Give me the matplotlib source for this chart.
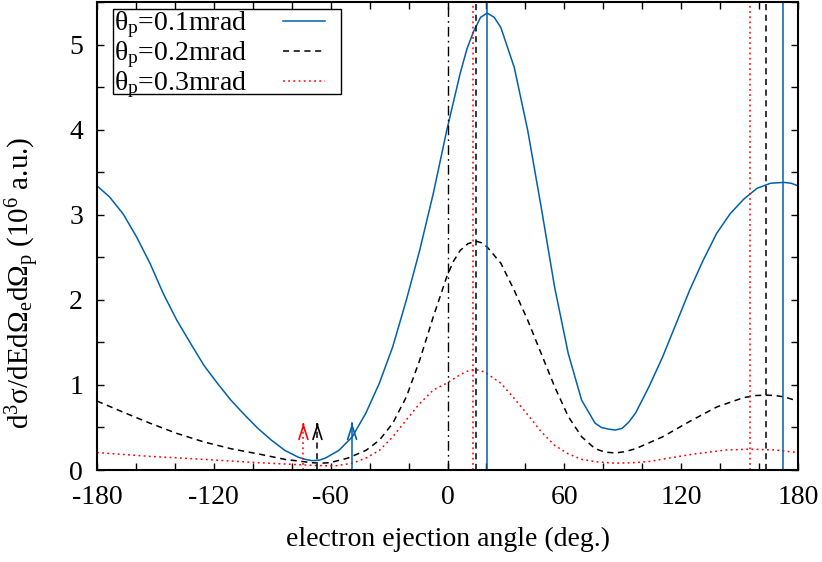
import matplotlib
matplotlib.use('Agg')
import matplotlib.pyplot as plt
from matplotlib.patches import Rectangle

plt.rcParams['font.family'] = ['Liberation Serif', 'DejaVu Serif']
plt.rcParams['mathtext.fontset'] = 'custom'
plt.rcParams['mathtext.rm'] = 'Liberation Serif'
plt.rcParams['mathtext.it'] = 'Liberation Serif:italic'
plt.rcParams['font.size'] = 20
plt.rcParams['axes.unicode_minus'] = False

# --- data ---
ang_01 = [-180, -173.6, -166.6, -159.7, -152.8, -145.9, -139, -132, -125.1, -118.2, -111.2, -104.3,
          -97.4, -90.4, -83.5, -76.6, -73, -69.7, -66, -62.7, -55.8, -48.9, -41.9, -35, -28.1, -21.1, -14.3,
          -7.3, -0.4, 6.5, 10, 13.5, 17, 20.4, 24, 27.4, 34.3, 41.2, 48.1, 55, 62, 68.9, 75.8, 79, 82.8,
          86.2, 89.7, 93, 96.6, 103.5, 110.5, 117.4, 124.3, 131.2, 138.2, 145.1, 152, 158.9, 165.9,
          172.8, 176.5, 180]
val_01 = [3.34, 3.21, 3.01, 2.74, 2.43, 2.07, 1.76, 1.49, 1.23, 1.02, 0.82, 0.65,
          0.49, 0.35, 0.23, 0.15, 0.125, 0.11, 0.115, 0.14, 0.23, 0.39, 0.67, 1.02, 1.45, 2.00, 2.58,
          3.25, 3.99, 4.66, 4.95, 5.16, 5.32, 5.37, 5.32, 5.20, 4.73, 3.99, 3.09, 2.15, 1.37, 0.82, 0.55, 0.50, 0.48,
          0.47, 0.49, 0.56, 0.67, 0.98, 1.33, 1.72, 2.11, 2.46, 2.78, 3.01, 3.18, 3.31, 3.37,
          3.38, 3.37, 3.34]

ang_02 = [-180, -166.6, -152.8, -139, -125.1, -111.2, -97.4, -83.5, -69.7, -65, -60.4, -51.2, -41.9, -35,
          -28.1, -21.1, -14.3, -7.3, -0.4, 3, 6.5, 10.5, 14.6, 17.5, 20.4, 27.4, 34.3, 41.2, 48.1, 55, 62, 68.9,
          75.8, 81, 86.2, 91, 96.6, 110.5, 124.3, 138.2, 152, 158, 163.6, 168, 172.8, 180]
val_02 = [0.81, 0.68, 0.55, 0.43, 0.33, 0.25, 0.19, 0.125, 0.086, 0.08, 0.086, 0.14, 0.23, 0.35,
          0.55, 0.86, 1.29, 1.80, 2.27, 2.45, 2.58, 2.66, 2.69, 2.67, 2.62, 2.43, 2.11, 1.76, 1.37, 0.98, 0.63, 0.39,
          0.25, 0.21, 0.20, 0.215, 0.25, 0.39, 0.57, 0.74, 0.85, 0.875, 0.88, 0.875, 0.86, 0.81]

ang_03 = [-180, -152.8, -125.1, -97.4, -69.7, -58.1, -48.9, -41.9, -35, -28.1, -21.1, -14.3, -7.3,
          -0.4, 3, 6.5, 10, 13.5, 17, 20.4, 27.4, 34.3, 41.2, 48.1, 55, 62, 68.9, 77, 86.2, 95, 103.5,
          124.3, 142.8, 155.5, 168.2, 180]
val_03 = [0.205, 0.16, 0.125, 0.086, 0.055, 0.047, 0.08, 0.14, 0.23, 0.39, 0.59, 0.78, 0.94,
          1.02, 1.07, 1.12, 1.16, 1.18, 1.17, 1.13, 1.02, 0.84, 0.65, 0.45, 0.29, 0.19, 0.125, 0.095, 0.08, 0.085,
          0.10, 0.18, 0.235, 0.245, 0.235, 0.205]

labels = ['θ$_\\mathrm{p}$=0.1mrad', 'θ$_\\mathrm{p}$=0.2mrad', 'θ$_\\mathrm{p}$=0.3mrad']
peak_lines = [[20.2, 172.5], [14.5, 163.4], [13.0, 155.4]]   # vertical markers
arrow_pos = [-49.0, -66.8, -74.0]                             # arrows at the bottom
arrow_top = 0.555

colors = ['#0060ad', 'black', '#ff0000']
styles = ['-', (0, (4, 3)), (0, (1.2, 2.2))]

fig = plt.figure(figsize=(8.22, 5.62), dpi=100)
ax = fig.add_axes([97 / 822, 92 / 562, 701 / 822, 468 / 562])

series = [(ang_01, val_01), (ang_02, val_02), (ang_03, val_03)]
for (a, v), c, ls, lab in zip(series, colors, styles, labels):
    ax.plot(a, v, color=c, linestyle=ls, lw=1.1, label=lab)

# vertical reference lines
ax.axvline(0, color='black', lw=1.0, linestyle=(0, (7, 3, 1.2, 3)))
for xs, c, ls in zip(peak_lines, colors, styles):
    for x in xs:
        ax.axvline(x, color=c, lw=1.1, linestyle=ls)

# arrows at bottom
for x, c, ls in zip(arrow_pos, colors, styles):
    ax.plot([x, x], [0, arrow_top], color=c, lw=1.1, linestyle=ls)
    ax.annotate('', xy=(x, arrow_top), xytext=(x, arrow_top - 0.02),
                arrowprops=dict(arrowstyle='->,head_length=1.0,head_width=0.32',
                                color=c, lw=1.2, shrinkA=0, shrinkB=0,
                                mutation_scale=10))

ax.set_xlim(-180, 180)
ax.set_ylim(0, 5.5)
ax.set_xticks(range(-180, 181, 60))
ax.set_xticks(range(-180, 181, 20), minor=True)
ax.set_yticks(range(0, 6))
ax.set_yticks([0.5 * i for i in range(12)], minor=True)
ax.tick_params(which='both', direction='in', top=True, right=True, length=5, width=1)
ax.tick_params(axis='x', pad=11)
ax.tick_params(axis='y', pad=10)
for s in ax.spines.values():
    s.set_linewidth(1.5)

ax.set_xlabel('electron ejection angle (deg.)', labelpad=12)
ax.set_ylabel('d$^3$σ/dEdΩ$_\\mathrm{e}$dΩ$_\\mathrm{p}$ (10$^6$ a.u.)', fontsize=21)
ax.yaxis.set_label_coords(-0.078, 0.40)

# legend entries + box drawn separately to match the reference frame
leg = ax.legend(loc='upper left', bbox_to_anchor=(0.02, 0.99), markerfirst=False,
                frameon=False, fontsize=20, labelspacing=-0.02, borderpad=0.1,
                handlelength=1.5, handletextpad=1.3, borderaxespad=0)
ax.add_patch(Rectangle((16 / 701, 1 - 92 / 468), 228 / 701, 85 / 468, transform=ax.transAxes,
                       facecolor='none', edgecolor='black', lw=1.0, zorder=5))

fig.savefig('out.png', dpi=100)
